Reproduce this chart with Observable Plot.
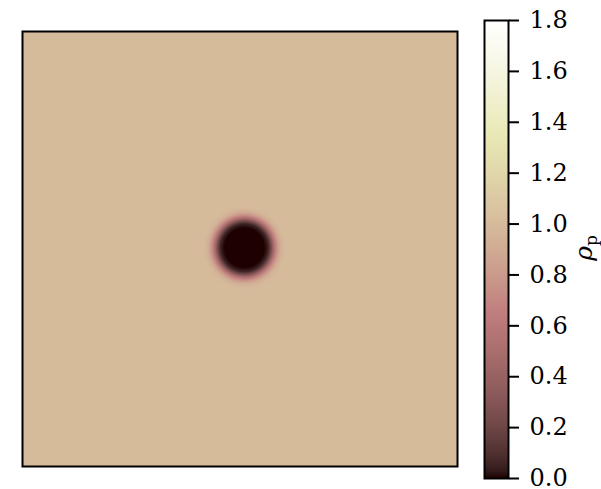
<!DOCTYPE html>
<html>
<head>
<meta charset="utf-8">
<script src="https://cdn.jsdelivr.net/npm/d3@7"></script>
<script src="https://cdn.jsdelivr.net/npm/@observablehq/plot@0.6"></script>
<style>
  html, body { margin: 0; padding: 0; background: #fff; }
  #wrap { position: relative; width: 601px; height: 489px; overflow: hidden; font-family: "DejaVu Serif", serif; }
  #main, #cbar { position: absolute; top: 0; }
  #main { left: 0; }
  #cbar { left: 480px; }
  #cbar svg text { font-family: "DejaVu Serif", serif !important; }
  #clabel { position: absolute; left: 585px; top: 248px; transform: translate(-50%, -50%) rotate(-90deg); font-size: 25px; line-height: 1; white-space: nowrap; font-family: "DejaVu Serif", serif; }
  #clabel sub { font-style: normal; font-size: 17px; vertical-align: -5px; }
</style>
</head>
<body>
<div id="wrap">
  <div id="main"></div>
  <div id="cbar"></div>
  <div id="clabel"><i>ρ</i><sub>p</sub></div>
</div>
<script>
// Field: uniform background density with a single depleted particle (radial profile)
const background = 1.0;
const center = [0.510, 0.503];                 // particle centre, fraction of domain
const profileR   = [0, 0.046, 0.055, 0.062, 0.069, 0.076, 0.083, 0.092, 0.103]; // radius (domain units)
const profileRho = [0.0, 0.0, 0.05, 0.25, 0.55, 0.78, 0.92, 0.99, 1.0];       // rho_p at radius
const colorDomain = [0, 1.8];
const colorTicks = [0, 0.2, 0.4, 0.6, 0.8, 1.0, 1.2, 1.4, 1.6, 1.8];

// matplotlib "pink" colormap: sqrt((2*gray + hot)/3), 64 entries
const pinkColors = d3.range(64).map(i => {
  const g = i / 63, n = 24;
  const hr = Math.min(1, (i + 1) / n);
  const hg = Math.max(0, Math.min(1, (i + 1 - n) / n));
  const hb = Math.max(0, Math.min(1, (i + 1 - 2 * n) / (64 - 2 * n)));
  const f = v => Math.round(255 * Math.sqrt((2 * g + v) / 3));
  return d3.rgb(f(hr), f(hg), f(hb)).formatHex();
});
const pinkInterp = d3.piecewise(d3.interpolateRgb, pinkColors);

function rhoAt(x, y) {
  const r = Math.hypot(x - center[0], y - center[1]);
  if (r >= profileR[profileR.length - 1]) return background;
  let i = d3.bisectRight(profileR, r) - 1;
  const t = (r - profileR[i]) / (profileR[i + 1] - profileR[i]);
  return profileRho[i] + t * (profileRho[i + 1] - profileRho[i]);
}

const colorOpts = { type: "linear", domain: colorDomain, interpolate: () => pinkInterp, clamp: true };

const main = Plot.plot({
  width: 480, height: 489,
  marginLeft: 22, marginRight: 23, marginTop: 31, marginBottom: 23,
  x: { domain: [0, 1], axis: null },
  y: { domain: [0, 1], axis: null },
  color: colorOpts,
  marks: [
    Plot.raster({ x1: 0, x2: 1, y1: 0, y2: 1, fill: rhoAt, pixelSize: 1 }),
    Plot.frame({ stroke: "black", strokeWidth: 2 })
  ]
});
document.getElementById("main").appendChild(main);

const cbar = Plot.plot({
  width: 121, height: 489,
  marginLeft: 4, marginRight: 93, marginTop: 20, marginBottom: 11,
  style: { fontFamily: "'DejaVu Serif', serif", fontSize: "24px", color: "black" },
  x: { domain: [0, 1], axis: null },
  y: { domain: colorDomain },
  color: colorOpts,
  marks: [
    Plot.raster({ x1: 0, x2: 1, y1: colorDomain[0], y2: colorDomain[1], fill: (x, y) => y, pixelSize: 1 }),
    Plot.axisY(colorTicks, { anchor: "right", tickSize: 10, tickPadding: 11, strokeWidth: 2, tickFormat: d => d.toFixed(1), label: null, fontSize: 24, fontFamily: "DejaVu Serif" }),
    Plot.frame({ stroke: "black", strokeWidth: 2 })
  ]
});
document.getElementById("cbar").appendChild(cbar);
</script>
</body>
</html>
